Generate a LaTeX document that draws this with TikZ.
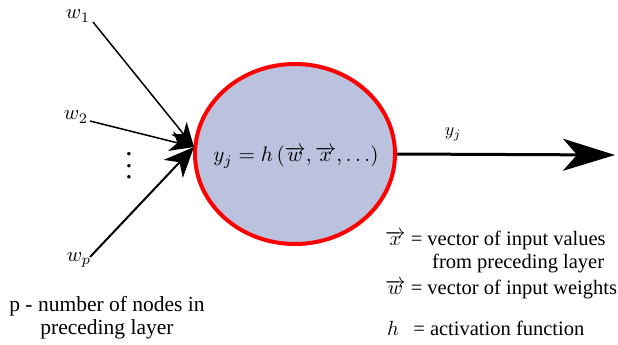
\documentclass[tikz,border=0pt]{standalone}
\usepackage[no-math]{fontspec}
\setmainfont{Liberation Serif}
\usetikzlibrary{shapes.geometric,arrows.meta}
\definecolor{cellfill}{RGB}{187,194,222}
\newcommand\tsc[1]{\scalebox{2.05}{#1}}
\tikzset{
  neuron/.style={ellipse,draw=red,line width=4pt,fill=cellfill,minimum width=200pt,minimum height=180pt,inner sep=0pt},
  lbl/.style={inner sep=0pt},
  txt/.style={inner sep=0pt},
  inarrow/.style={line width=1.5pt,-{Stealth[length=24pt,width=20pt,inset=7pt]}},
  bigin/.style={line width=2pt,-{Stealth[length=30pt,width=26pt,inset=9pt]}},
  outarrow/.style={line width=3pt,-{Stealth[length=52pt,width=32pt,inset=14pt]}}
}
\begin{document}
\begin{tikzpicture}[x=1pt,y=-1pt]
\useasboundingbox (0,0) rectangle (618,345);
\node[neuron] (n) at (295,154) {};
\node[inner sep=0pt] (f) at (296,157) {\resizebox{165pt}{!}{$y_j = h\,(\overrightarrow{w},\overrightarrow{x},\ldots)$}};
\coordinate (tip) at (194,147);
\node[lbl] (w1) at (78,16) {\scalebox{2.07}{$w_1$}};
\node[lbl] (w2) at (76,117) {\scalebox{2.07}{$w_2$}};
\node[lbl] (wp) at (79,260) {\scalebox{2.07}{$w_p$}};
\node[lbl] (dots) at (129,157) {\scalebox{2.9}{$\vdots$}};
\coordinate (s1) at (93,22);
\coordinate (s2) at (90,121);
\coordinate (sp) at (90,257);
\draw[inarrow] (s1) -- (tip);
\draw[inarrow] (s2) -- (tip);
\draw[bigin] (sp) -- (tip);
\coordinate (out) at (615,155);
\draw[outarrow] (n.east) -- (out);
\node[lbl] (yj) at (453,134) {\scalebox{1.8}{$y_j$}};
\node[txt,anchor=west] (xdef) at (385,240) {\tsc{$\overrightarrow{x}$ = vector of input values}};
\node[txt,anchor=west] (xdef2) at (432,263) {\tsc{from preceding layer}};
\node[txt,anchor=west] (wdef) at (385,289) {\tsc{$\overrightarrow{w}$ = vector of input weights}};
\node[txt,anchor=west] (hdef) at (387,328) {\tsc{$h$\hspace{7pt}= activation function}};
\node[txt] (pdef) at (107,318) {\scalebox{2.15}{\renewcommand\arraystretch{0.9}\begin{tabular}{@{}c@{}}p - number of nodes in\\preceding layer\end{tabular}}};
\end{tikzpicture}
\end{document}
